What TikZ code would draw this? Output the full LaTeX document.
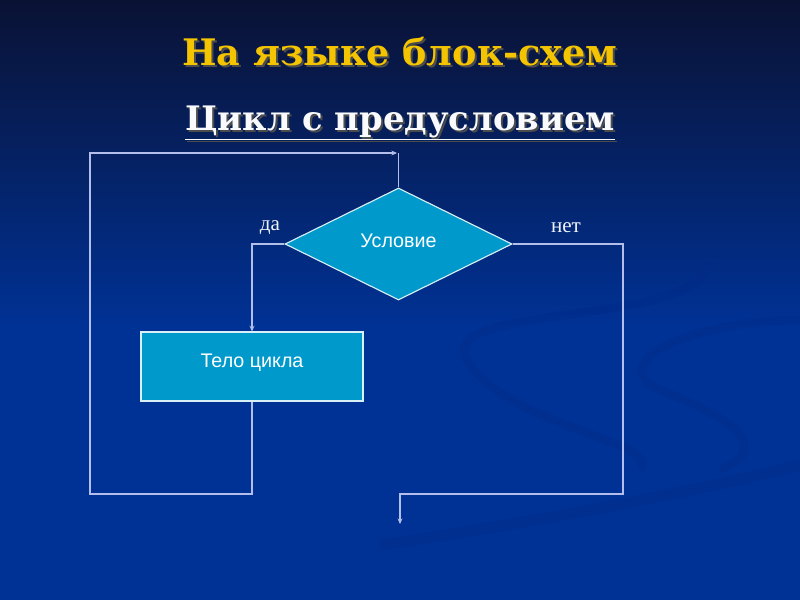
\documentclass[tikz,border=0pt]{standalone}
\usepackage{fontspec}
\setmainfont{Liberation Serif}
\newfontfamily\headfont{DejaVu Serif}
\newfontfamily\boxfont{Liberation Sans}
\usetikzlibrary{arrows.meta, shapes.geometric}
\definecolor{bgtop}{RGB}{10,18,52}
\definecolor{bgmid}{RGB}{0,50,150}
\definecolor{swirl}{RGB}{0,42,135}
\definecolor{boxfill}{RGB}{0,153,204}
\definecolor{wirecol}{RGB}{180,190,235}
\definecolor{gold}{RGB}{245,196,0}

\begin{document}
\begin{tikzpicture}[x=0.025cm,y=-0.025cm,>={Stealth[length=4pt,width=3.5pt]},
  wire/.style={draw=wirecol,line width=0.9pt},
  block/.style={draw=white!85!boxfill,line width=0.8pt,fill=boxfill,text=white,inner sep=0pt,font=\boxfont\fontsize{14}{16}\selectfont},
  lbl/.style={text=white!80!wirecol,font=\fontsize{15}{17}\selectfont}]
\useasboundingbox (0,0) rectangle (800,600);
% background
\shade[top color=bgtop,bottom color=bgmid] (0,0) rectangle (800,330);\fill[bgmid] (0,330) rectangle (800,600);
\draw[swirl,line width=6pt,opacity=0.35] (710,262) .. controls (700,330) and (420,300) .. (470,365) .. controls (520,430) and (660,440) .. (640,470);
\draw[swirl,line width=6pt,opacity=0.35] (800,320) .. controls (700,320) and (600,360) .. (660,390) .. controls (740,420) and (770,450) .. (720,470);
\draw[swirl,line width=8pt,opacity=0.35] (380,545) .. controls (550,520) and (700,490) .. (800,465);
% titles
\node[font=\headfont\bfseries\fontsize{26}{30}\selectfont,text=black!70] at (402,54) {На языке блок-схем};
\node[font=\headfont\bfseries\fontsize{26}{30}\selectfont,text=gold] (title) at (400,52) {На языке блок-схем};
\node[font=\headfont\bfseries\fontsize{24}{28}\selectfont,text=black!70] at (402,125) {\underline{Цикл с предусловием}};
\node[font=\headfont\bfseries\fontsize{24}{28}\selectfont,text=white!92!wirecol] (sub) at (400,123) {\underline{Цикл с предусловием}};
% blocks
\node[block,diamond,minimum width=5.675cm,minimum height=2.8cm,text depth=0.15cm] (cond) at (398.5,244) {Условие};
\node[block,rectangle,minimum width=5.55cm,minimum height=1.725cm,text depth=0.3cm] (body) at (252,366.5) {Тело цикла};
\node[lbl] (yes) at (270,228) {да};\node[lbl] (no) at (566,228) {нет};
% connectors
\coordinate (back) at (90,494);\coordinate (entry) at (397,153);\coordinate (turn) at (623,494);\coordinate (exit) at (400,524);
\draw[wire,->] (cond.west) -| (body.north);
\draw[wire,->] (body.south) -- (body.south |- back) -- (back) -- (back |- entry) -- (entry);
\draw[wire] (cond.north |- entry) -- (cond.north);
\draw[wire,->] (cond.east) -| (turn) -| (exit);
\end{tikzpicture}
\end{document}
